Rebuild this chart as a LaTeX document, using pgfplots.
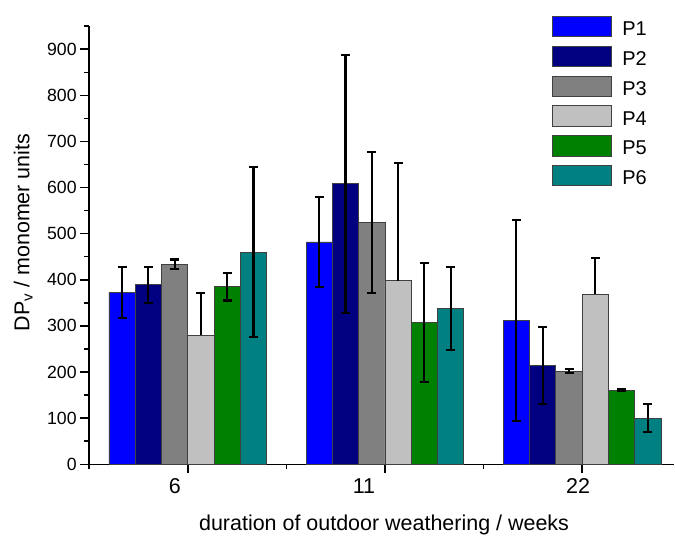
\documentclass[border=0pt]{standalone}
\usepackage{fontspec}
\setmainfont{Liberation Sans}
\usepackage{pgfplots}
\pgfplotsset{compat=1.18}

\definecolor{cP1}{RGB}{0,0,255}
\definecolor{cP2}{RGB}{0,0,128}
\definecolor{cP3}{RGB}{128,128,128}
\definecolor{cP4}{RGB}{192,192,192}
\definecolor{cP5}{RGB}{0,128,0}
\definecolor{cP6}{RGB}{0,128,128}

\pgfplotsset{
  barleg/.style={legend image code/.code={\draw[##1, line width=0.8pt] (0pt,-1pt) rectangle (60pt,19.3pt);}},
  bstyle/.style={fill=#1, draw=black!75, line width=0.8pt, barleg,
    /pgfplots/error bars/y dir=both, /pgfplots/error bars/y explicit,
    /pgfplots/error bars/error bar style={line width=2.1pt, black},
    /pgfplots/error bars/error mark options={black, line width=2.1pt, mark size=4.5pt, rotate=90}},
}

\begin{document}
\begin{tikzpicture}
\begin{axis}[
  scale only axis, width=586pt, height=438.8pt,
  xmin=0.5, xmax=3.467, ymin=0, ymax=950,
  ybar=0pt, bar width=26.33pt,
  axis x line*=bottom, axis y line*=left,
  axis line style={line width=1.5pt},
  xtick={1,2,3},
  xticklabels={6\hspace*{26pt}, 11\hspace*{42pt}, 22\hspace*{8pt}},
  minor xtick={0.5,1.5,2.5},
  ytick={0,100,...,900}, minor ytick={50,150,...,950},
  tick align=outside, major tick length=9pt, minor tick length=5pt,
  every tick/.style={line width=1.5pt, black},
  /pgf/number format/assume math mode=true,
  yticklabel style={font=\fontsize{17.7}{20}\selectfont},
  xticklabel style={font=\fontsize{21.5}{24}\selectfont, yshift=-2pt},
  xlabel={duration of outdoor weathering / weeks},
  ylabel={DP\textsubscript{v} / monomer units},
  label style={font=\fontsize{21.5}{25}\selectfont},
  xlabel style={at={(rel axis cs:0.504,-0.151)}, anchor=base},
  ylabel style={at={(rel axis cs:-0.102,0.529)}, anchor=base},
  legend style={at={(rel axis cs:0.790,1.024)}, anchor=north west,
    draw=none, fill=none, inner sep=0pt, row sep=8.7pt,
    font=\fontsize{20}{24}\selectfont,
    nodes={inner sep=0pt, anchor=base west}},
  legend cell align=left,
  clip=false,
]
\addplot[bstyle=cP1] coordinates {(1,373) +- (0,55) (2,482) +- (0,98) (3,312) +- (0,218)};
\addlegendentry{\hspace*{10pt}P1}
\addplot[bstyle=cP2] coordinates {(1,389) +- (0,39) (2,608) +- (0,280) (3,214) +- (0,83)};
\addlegendentry{\hspace*{10pt}P2}
\addplot[bstyle=cP3] coordinates {(1,434) +- (0,10) (2,524) +- (0,153) (3,202) +- (0,5)};
\addlegendentry{\hspace*{10pt}P3}
\addplot[bstyle=cP4, /pgfplots/error bars/y dir=plus] coordinates {(1,280) +- (0,91) (2,398) +- (0,256) (3,369) +- (0,79)};
\addlegendentry{\hspace*{10pt}P4}
\addplot[bstyle=cP5] coordinates {(1,385) +- (0,30) (2,307) +- (0,129) (3,161) +- (0,2)};
\addlegendentry{\hspace*{10pt}P5}
\addplot[bstyle=cP6] coordinates {(1,460) +- (0,184) (2,337) +- (0,90) (3,100) +- (0,31)};
\addlegendentry{\hspace*{10pt}P6}
\path (rel axis cs:-0.1524,-0.1572) rectangle (rel axis cs:1,1.0597);
\end{axis}
\end{tikzpicture}
\end{document}
